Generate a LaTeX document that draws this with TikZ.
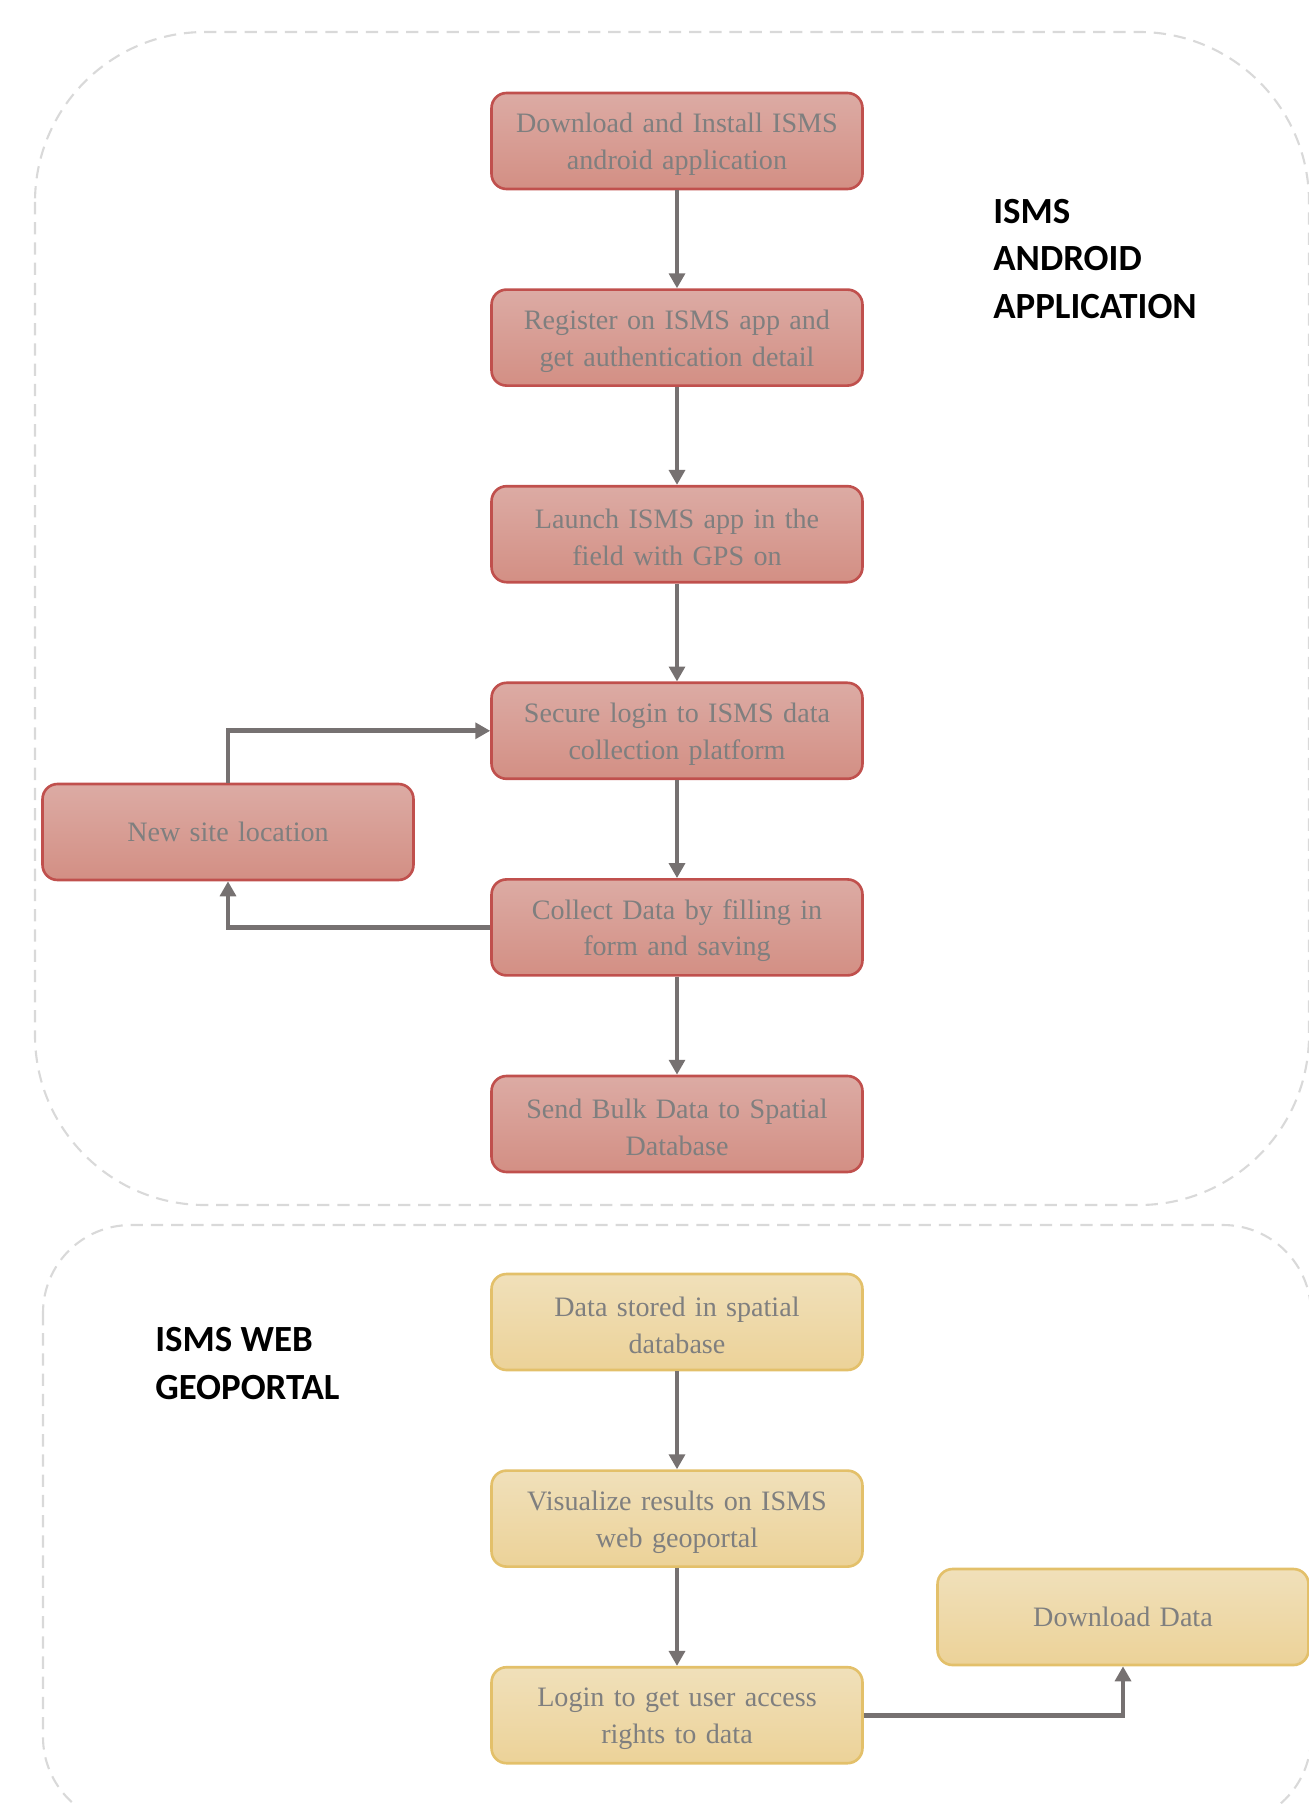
\documentclass[tikz,border=0pt]{standalone}
\usepackage{fontspec}
\setmainfont{Liberation Serif}
\newfontfamily\headfont{Carlito}
\usetikzlibrary{positioning,arrows.meta}
\definecolor{boxred}{HTML}{C0504D}
\definecolor{redtop}{HTML}{DCABA4}
\definecolor{redbot}{HTML}{D38F84}
\definecolor{boxgold}{HTML}{E3C06A}
\definecolor{goldtop}{HTML}{F0E0BA}
\definecolor{goldbot}{HTML}{ECD298}
\definecolor{arrowgray}{HTML}{767171}
\definecolor{textgray}{HTML}{7F7F7F}
\definecolor{dashgray}{HTML}{D9D9D9}

\begin{document}
\begin{tikzpicture}[x=0.02cm, y=-0.02cm, node distance=1.96cm,
    stepbox/.style={draw, rectangle, rounded corners=0.3cm, line width=1.5pt,
        minimum width=7.42cm, minimum height=1.92cm, text width=7cm, align=center,
        font=\fontsize{16}{21}\selectfont, text=textgray},
    twoline/.style={execute at begin node={\rule{0pt}{15pt}}},
    redbox/.style={stepbox, draw=boxred, top color=redtop, bottom color=redbot},
    goldbox/.style={stepbox, draw=boxgold, top color=goldtop, bottom color=goldbot},
    flow/.style={-{Triangle[length=8.5pt, width=9pt]}, line width=2.8pt, draw=arrowgray},
    group/.style={draw=dashgray, line width=1.2pt, dash pattern=on 7pt off 4.5pt},
    heading/.style={anchor=north west, inner sep=0pt, align=left,
        font=\headfont\bfseries\fontsize{21}{27}\selectfont}]
    \useasboundingbox (0,0) rectangle (1308,1804);

    \draw[group, rounded corners=3.4cm] (35,32) rectangle (1309,1205);
    \draw[group, rounded corners=1.76cm] (43,1225) rectangle (1311,1825);

    \node[heading] (androidlabel) at (993,199) {ISMS\\ANDROID\\APPLICATION};
    \node[heading] (weblabel) at (155,1327) {ISMS WEB\\GEOPORTAL};

    \node[redbox, twoline] (install) at (677,141) {Download and Install ISMS\\android application};
    \node[redbox, twoline, below=of install] (register) {Register on ISMS app and\\get authentication detail};
    \node[redbox, twoline, below=of register] (launch) {Launch ISMS app in the\\field with GPS on};
    \node[redbox, twoline, below=of launch] (login) {Secure login to ISMS data\\collection platform};
    \node[redbox, twoline, below=of login] (collect) {Collect Data by filling in\\form and saving};
    \node[redbox, twoline, below=of collect] (send) {Send Bulk Data to Spatial\\Database};
    \node[redbox] (newsite) at (228,832) {New site location};

    \node[goldbox, twoline] (stored) at (677,1322) {Data stored in spatial\\database};
    \node[goldbox, twoline, below=of stored] (visual) {Visualize results on ISMS\\web geoportal};
    \node[goldbox, twoline, below=of visual] (access) {Login to get user access\\rights to data};
    \node[goldbox] (download) at (1123,1617) {Download Data};

    \draw[flow] (install) -- (register);
    \draw[flow] (register) -- (launch);
    \draw[flow] (launch) -- (login);
    \draw[flow] (login) -- (collect);
    \draw[flow] (collect) -- (send);
    \draw[flow] (collect.west) -| (newsite.south);
    \draw[flow] (newsite.north) |- (login.west);

    \draw[flow] (stored) -- (visual);
    \draw[flow] (visual) -- (access);
    \draw[flow] (access.east) -| (download.south);
\end{tikzpicture}
\end{document}
